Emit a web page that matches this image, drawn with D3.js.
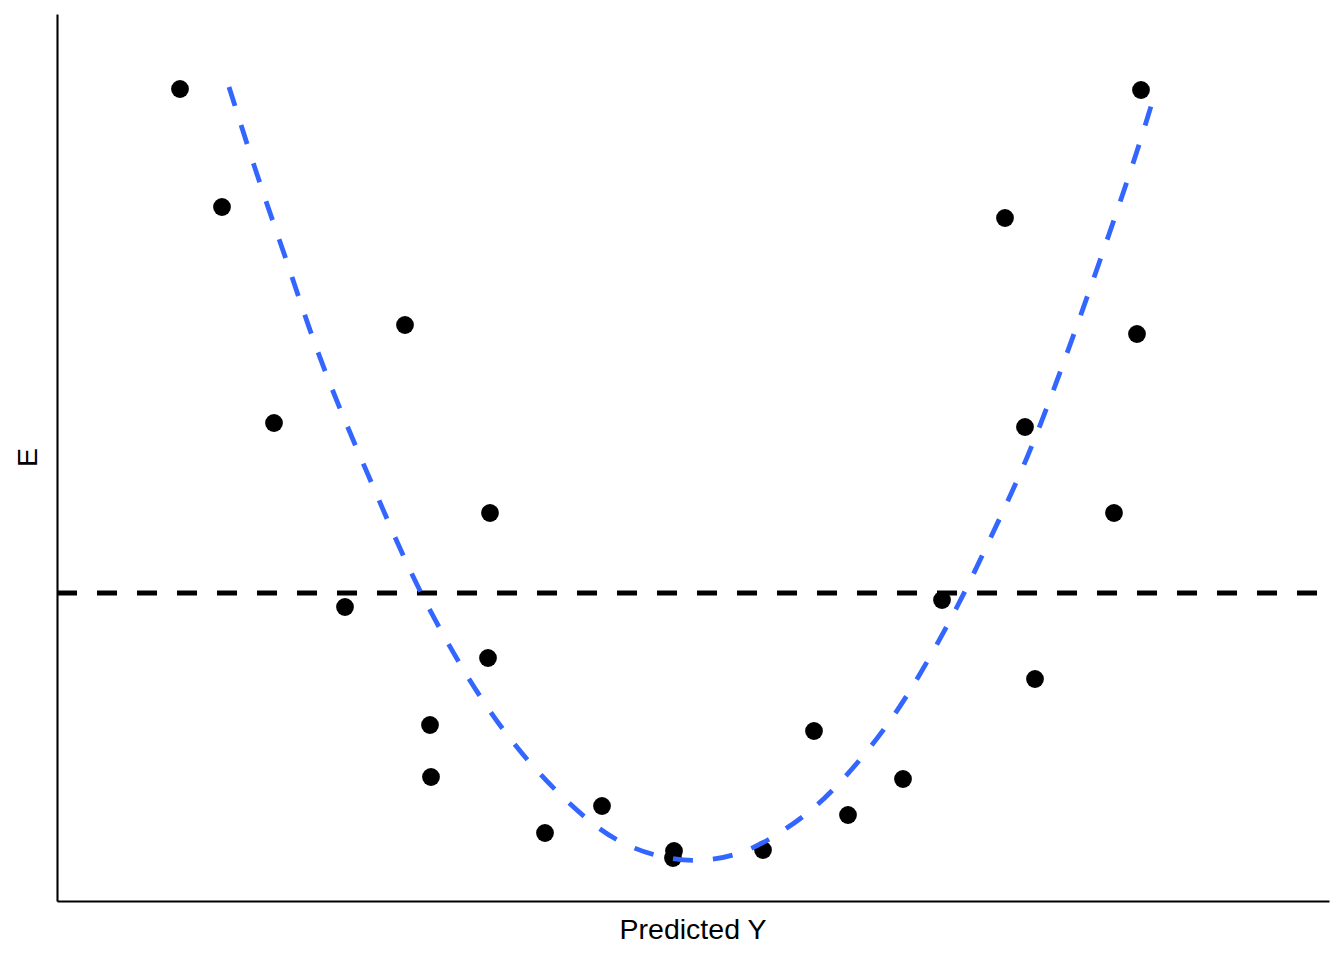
<!DOCTYPE html>
<html>
<head>
<meta charset="utf-8">
<script src="https://cdn.jsdelivr.net/npm/d3@7"></script>
<style>
  html, body { margin: 0; padding: 0; background: #ffffff; }
  svg { display: block; }
</style>
</head>
<body>
<script>
// ---- data ----
const xLabel = "Predicted Y";
const yLabel = "E";

// observed points: predicted value and residual
const predicted = [1.23, 1.65, 2.17, 2.88, 3.48, 3.73, 3.74, 4.31, 4.33, 4.88, 5.45, 6.17,
                   6.16, 7.06, 7.57, 7.91, 8.46, 8.85, 9.48, 9.68, 9.78, 10.57, 10.80, 10.84];
const residual  = [5.04, 3.86, 1.70, -0.14, 2.68, -1.32, -1.84, -0.65, 0.80, -2.40, -2.13, -2.58,
                   -2.65, -2.57, -1.38, -2.22, -1.86, -0.07, 3.75, 1.66, -0.86, 0.80, 2.59, 5.03];

// fitted curve
const curveX = [1.72, 2.03, 2.31, 2.56, 2.86, 3.19, 3.51, 3.84, 4.25, 4.73, 5.34, 5.71, 6.09, 6.48,
                6.88, 7.22, 7.56, 7.85, 8.13, 8.37, 8.60, 9.00, 9.35, 9.70, 9.99, 10.26, 10.54, 10.80, 10.95];
const curveY = [5.06, 4.08, 3.29, 2.52, 1.76, 1.00, 0.25, -0.39, -1.09, -1.73, -2.32, -2.54, -2.66, -2.69,
                -2.60, -2.41, -2.17, -1.88, -1.55, -1.23, -0.87, -0.16, 0.58, 1.33, 2.09, 2.84, 3.64, 4.41, 4.90];

const referenceLine = 0;
const xDomain = [0, 12.72];
const yDomain = [-3.08, 5.79];

// ---- layout ----
const W = 1344, H = 960;
const panel = { left: 57, right: 1329, top: 14, bottom: 901 };

const svg = d3.select("body").append("svg")
  .attr("width", W).attr("height", H)
  .attr("viewBox", `0 0 ${W} ${H}`);

const x = d3.scaleLinear().domain(xDomain).range([panel.left, panel.right]);
const y = d3.scaleLinear().domain(yDomain).range([panel.bottom, panel.top]);

// horizontal reference line
svg.append("line")
  .attr("x1", x(xDomain[0])).attr("x2", x(xDomain[1]))
  .attr("y1", y(referenceLine)).attr("y2", y(referenceLine))
  .attr("stroke", "#000000")
  .attr("stroke-width", 4.8)
  .attr("stroke-dasharray", "20,20");

// points
const pts = predicted.map((v, i) => ({ x: v, y: residual[i] }));
svg.append("g").selectAll("circle")
  .data(pts).enter().append("circle")
  .attr("cx", d => x(d.x))
  .attr("cy", d => y(d.y))
  .attr("r", 8.9)
  .attr("fill", "#000000");

// fitted curve
const curvePts = curveX.map((v, i) => [v, curveY[i]]);
const line = d3.line()
  .x(d => x(d[0]))
  .y(d => y(d[1]))
  .curve(d3.curveBasis);
svg.append("path")
  .attr("d", line(curvePts))
  .attr("fill", "none")
  .attr("stroke", "#3366FF")
  .attr("stroke-width", 4.8)
  .attr("stroke-dasharray", "20,20");

// axes (lines only, no ticks)
const xAxis = d3.axisBottom(x).tickValues([]).tickSizeOuter(0);
const yAxis = d3.axisLeft(y).tickValues([]).tickSizeOuter(0);
svg.append("g").attr("transform", `translate(0,${panel.bottom})`).call(xAxis)
  .select(".domain").attr("stroke", "#000000").attr("stroke-width", 2.1);
svg.append("g").attr("transform", `translate(${panel.left},0)`).call(yAxis)
  .select(".domain").attr("stroke", "#000000").attr("stroke-width", 2.1);

// axis titles
svg.append("text")
  .attr("x", (panel.left + panel.right) / 2)
  .attr("y", 939.3)
  .attr("text-anchor", "middle")
  .attr("font-family", "Arial, 'Liberation Sans', sans-serif")
  .attr("font-size", 28.5)
  .attr("fill", "#000000")
  .text(xLabel);

svg.append("text")
  .attr("transform", `translate(36.5,${(panel.top + panel.bottom) / 2}) rotate(-90)`)
  .attr("text-anchor", "middle")
  .attr("font-family", "Arial, 'Liberation Sans', sans-serif")
  .attr("font-size", 28.5)
  .attr("fill", "#000000")
  .text(yLabel);
</script>
</body>
</html>
